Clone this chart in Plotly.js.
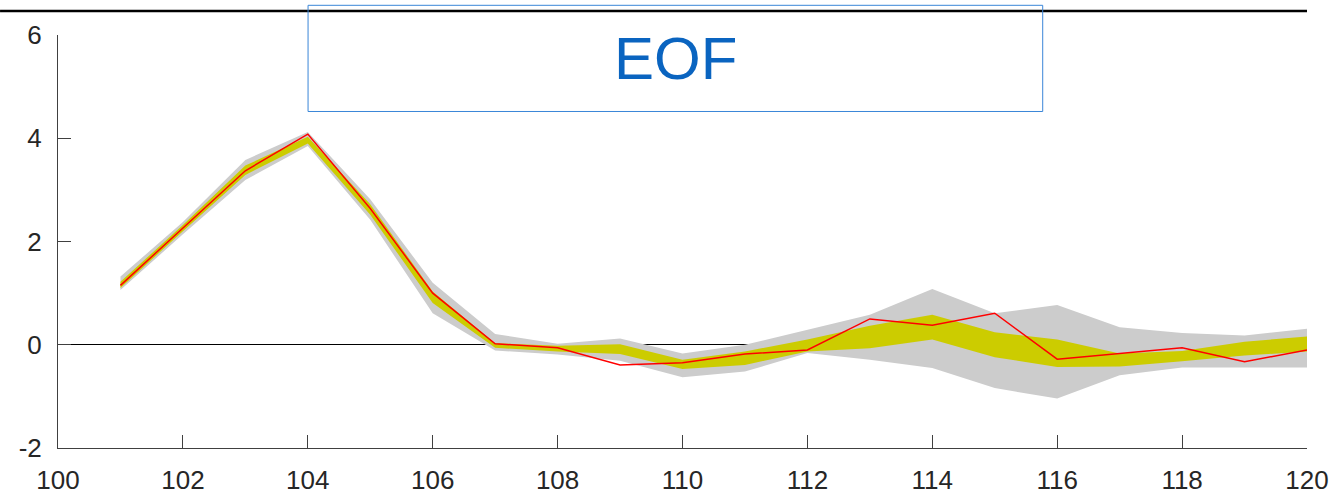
<!DOCTYPE html>
<html>
<head>
<meta charset="utf-8">
<script src="https://cdn.plot.ly/plotly-3.0.1.min.js"></script>
<style>html,body{margin:0;padding:0;background:#fff;}#chart{width:1340px;height:494px;}</style>
</head>
<body>
<div id="chart"></div>
<script>
// Data
const xVals = [101,102,103,104,105,106,107,108,109,110,111,112,113,114,115,116,117,118,119,120];
const redLine = [1.15,2.26,3.37,4.08,2.64,1.00,0.02,-0.06,-0.39,-0.35,-0.18,-0.10,0.50,0.38,0.61,-0.28,-0.17,-0.06,-0.33,-0.10];
const yellowUpper = [1.22,2.32,3.47,4.03,2.72,1.03,0.03,-0.02,0.01,-0.29,-0.13,0.10,0.37,0.58,0.24,0.10,-0.17,-0.12,0.06,0.16];
const yellowLower = [1.10,2.20,3.29,3.90,2.52,0.81,-0.06,-0.13,-0.18,-0.47,-0.39,-0.13,-0.07,0.10,-0.24,-0.43,-0.42,-0.32,-0.21,-0.13];
const grayUpper = [1.32,2.38,3.58,4.12,2.82,1.20,0.21,0.02,0.12,-0.17,0.00,0.29,0.58,1.08,0.61,0.77,0.34,0.23,0.18,0.31];
const grayLower = [1.06,2.14,3.19,3.85,2.42,0.61,-0.11,-0.19,-0.31,-0.63,-0.52,-0.16,-0.29,-0.45,-0.84,-1.04,-0.59,-0.44,-0.44,-0.44];
const xTicks = [100,102,104,106,108,110,112,114,116,118,120];
const yTicks = [-2,0,2,4,6];
const titleText = "EOF";

function band(upper, lower){
  return {
    x: xVals.concat(xVals.slice().reverse()),
    y: upper.concat(lower.slice().reverse())
  };
}
const gb = band(grayUpper, grayLower);
const yb = band(yellowUpper, yellowLower);

const traces = [
  {x: gb.x, y: gb.y, type:'scatter', mode:'lines', fill:'toself', fillcolor:'#cccccc', line:{width:0, color:'#cccccc'}, hoverinfo:'skip', showlegend:false},
  {x: yb.x, y: yb.y, type:'scatter', mode:'lines', fill:'toself', fillcolor:'#cccc00', line:{width:0, color:'#cccc00'}, hoverinfo:'skip', showlegend:false},
  {x: xVals, y: redLine, type:'scatter', mode:'lines', line:{color:'#ff0000', width:1.5}, showlegend:false}
];

const axisFont = {family:'"Liberation Sans", Arial, Helvetica, sans-serif', size:26, color:'#262626'};
const layout = {
  width:1340, height:494,
  margin:{l:58, r:33, t:35, b:46, pad:0},
  paper_bgcolor:'#ffffff', plot_bgcolor:'#ffffff',
  showlegend:false,
  xaxis:{
    range:[100,120], tickvals:xTicks, ticktext:xTicks.map(String),
    showgrid:false, zeroline:false, showline:true, linecolor:'#404040', linewidth:1,
    ticks:'inside', ticklen:13, tickcolor:'#404040', tickwidth:1,
    tickfont:axisFont, ticklabelstandoff:9
  },
  yaxis:{
    range:[-2,6], tickvals:yTicks, ticktext:yTicks.map(String),
    showgrid:false, zeroline:true, zerolinecolor:'#000000', zerolinewidth:1,
    showline:true, linecolor:'#404040', linewidth:1,
    ticks:'inside', ticklen:13, tickcolor:'#404040', tickwidth:1,
    tickfont:axisFont, ticklabelstandoff:10
  },
  shapes:[
    {type:'line', xref:'paper', yref:'paper', x0:-0.0464, x1:1.0, y0:1.058, y1:1.058, line:{color:'#000000', width:2.5}},
    {type:'rect', xref:'paper', yref:'paper', x0:0.2002, x1:0.7884, y0:0.8148, y1:1.0719, line:{color:'#3a86d8', width:1}, fillcolor:'rgba(0,0,0,0)'}
  ],
  annotations:[
    {text:titleText, xref:'paper', yref:'paper', x:0.4944, y:0.9426, xanchor:'center', yanchor:'middle', showarrow:false,
     font:{family:'"Liberation Sans", Arial, Helvetica, sans-serif', size:60, color:'#0a64c0'}}
  ]
};

Plotly.newPlot('chart', traces, layout, {staticPlot:true, displayModeBar:false});
</script>
</body>
</html>
